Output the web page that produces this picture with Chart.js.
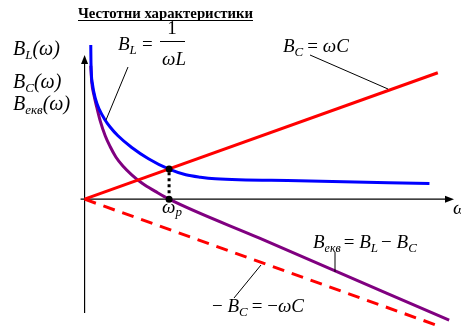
<!DOCTYPE html>
<html>
<head>
<meta charset="utf-8">
<script src="https://cdn.jsdelivr.net/npm/chart.js@4.4.1/dist/chart.umd.min.js"></script>
<style>
  html, body { margin: 0; padding: 0; background: #ffffff; }
  #wrap { width: 461px; height: 332px; }
</style>
</head>
<body>
<div id="wrap"><canvas id="c" width="461" height="332"></canvas></div>
<script>
// ---- Data (ω in units of ωp, susceptance in units of B at resonance) ----
const omegaBL   = [0.0733, 0.0756, 0.093, 0.128, 0.174, 0.233, 0.302, 0.395, 0.558, 0.756, 1.000, 1.198, 1.372, 1.547, 2.535, 4.081];
const valuesBL  = [5.097,  4.516,  3.806, 3.323, 2.968, 2.661, 2.387, 2.097, 1.710, 1.339, 0.990, 0.806, 0.726, 0.677, 0.613, 0.516];

const omegaBeq  = [0.0733, 0.0849, 0.110, 0.145, 0.186, 0.244, 0.302, 0.372, 0.453, 0.558, 0.686, 0.837, 1.000, 2.070, 4.314];
const valuesBeq = [4.410,  3.871,  3.452, 3.032, 2.581, 2.097, 1.742, 1.387, 1.097, 0.806, 0.516, 0.258, 0.000, -1.290, -4.000];

const omegaBC     = [0, 4.18];
const valuesBC    = [0, 4.18];
const omegaNegBC  = [0, 4.20];
const valuesNegBC = [0, -4.20];

const resonanceOmega = [1, 1];
const resonanceB     = [0, 1];

const titleText = 'Честотни характеристики';

// ---- helpers ----
const pts = (xs, ys) => xs.map((x, i) => ({ x: x, y: ys[i] }));
const SERIF = '"Liberation Serif", "DejaVu Serif", serif';
const MAIN = 'italic 19px ', SUB = 'italic 13px ', UP = '19px ';

function rich(ctx, x, y, runs) {
  let cx = x;
  runs.forEach(r => {
    ctx.font = (r.font || MAIN) + SERIF;
    ctx.fillText(r.t, cx, y + (r.dy || 0));
    cx += ctx.measureText(r.t).width + (r.kern || 0);
  });
  return cx;
}

function line(ctx, x1, y1, x2, y2, w) {
  ctx.beginPath();
  ctx.lineWidth = w || 1;
  ctx.moveTo(x1, y1);
  ctx.lineTo(x2, y2);
  ctx.stroke();
}

const decor = {
  id: 'decor',
  beforeDatasetsDraw(chart) {
    const ctx = chart.ctx;
    const xs = chart.scales.x, ys = chart.scales.y;
    const x0 = xs.getPixelForValue(0), y0 = ys.getPixelForValue(0);
    ctx.save();
    ctx.strokeStyle = '#000'; ctx.fillStyle = '#000';
    // x axis with arrow
    const xEnd = 454;
    line(ctx, x0 - 4, y0, xEnd - 6, y0, 1.2);
    ctx.beginPath();
    ctx.moveTo(xEnd, y0); ctx.lineTo(xEnd - 9, y0 - 3.5); ctx.lineTo(xEnd - 9, y0 + 3.5); ctx.closePath(); ctx.fill();
    // y axis with arrow
    const yTop = 55;
    line(ctx, x0, 313, x0, yTop + 6, 1.2);
    ctx.beginPath();
    ctx.moveTo(x0, yTop); ctx.lineTo(x0 - 3.5, yTop + 9); ctx.lineTo(x0 + 3.5, yTop + 9); ctx.closePath(); ctx.fill();
    ctx.restore();
  },
  afterDatasetsDraw(chart) {
    const ctx = chart.ctx;
    ctx.save();
    ctx.fillStyle = '#000'; ctx.strokeStyle = '#000';
    ctx.textBaseline = 'alphabetic';

    // title (bold, underlined)
    ctx.font = 'bold 14px ' + SERIF;
    const tw = ctx.measureText(titleText).width;
    const target = 175;
    ctx.save();
    ctx.translate(78, 18);
    ctx.scale(target / tw, 1);
    ctx.fillText(titleText, 0, 0);
    ctx.restore();
    line(ctx, 78, 20.5, 78 + target, 20.5, 1.2);

    // left axis labels
    const L = 'italic 20px ', LS = 'italic 13px ';
    rich(ctx, 13, 55, [{t:'B', font:L}, {t:'L', font:LS, dy:4}, {t:'(ω)', font:L}]);
    rich(ctx, 13, 88, [{t:'B', font:L}, {t:'C', font:LS, dy:4}, {t:'(ω)', font:L}]);
    rich(ctx, 13, 110, [{t:'B', font:L}, {t:'екв', font:LS, dy:4}, {t:'(ω)', font:L}]);

    // B_L = 1/(ωL)
    rich(ctx, 118, 50, [{t:'B'}, {t:'L', font:SUB, dy:4, kern:4}]);
    ctx.font = UP + SERIF;
    ctx.fillText('=', 142, 50);
    line(ctx, 160, 41.5, 185, 41.5, 1);
    ctx.textAlign = 'center';
    ctx.fillText('1', 172, 34);
    ctx.font = MAIN + SERIF;
    ctx.fillText('ωL', 174, 65);
    ctx.textAlign = 'left';
    line(ctx, 128, 67, 106, 120, 1);

    // B_C = ωC
    rich(ctx, 283, 52, [{t:'B'}, {t:'C', font:SUB, dy:4, kern:4}, {t:'= ', font:UP}, {t:'ωC'}]);
    line(ctx, 310, 55, 388, 89, 1);

    // B_екв = B_L − B_C
    rich(ctx, 313, 248, [{t:'B'}, {t:'екв', font:'italic 12px ', dy:4, kern:3}, {t:'= ', font:UP}, {t:'B'}, {t:'L', font:SUB, dy:4, kern:3}, {t:'− ', font:UP}, {t:'B'}, {t:'C', font:SUB, dy:4}]);
    line(ctx, 335, 252, 335, 272, 1);

    // −B_C = −ωC
    rich(ctx, 212, 312, [{t:'− ', font:UP}, {t:'B'}, {t:'C', font:SUB, dy:4, kern:4}, {t:'= −', font:UP}, {t:'ωC'}]);
    line(ctx, 261, 265, 234, 298, 1);

    // ω_p
    rich(ctx, 162, 213, [{t:'ω'}, {t:'p', font:SUB, dy:3}]);

    // ω at axis end
    rich(ctx, 453, 214, [{t:'ω'}]);
    ctx.restore();
  }
};

new Chart(document.getElementById('c'), {
  type: 'scatter',
  data: {
    datasets: [
      {
        label: 'resonance', data: pts(resonanceOmega, resonanceB), showLine: true,
        borderColor: '#000', borderWidth: 3, borderDash: [3, 3],
        pointRadius: 3.5, pointBackgroundColor: '#000', pointBorderWidth: 0, order: 0
      },
      {
        label: 'B_C', data: pts(omegaBC, valuesBC), showLine: true,
        borderColor: '#ff0000', borderWidth: 3, pointRadius: 0, order: 1
      },
      {
        label: 'B_L', data: pts(omegaBL, valuesBL), showLine: true,
        borderColor: '#0000ff', borderWidth: 3, pointRadius: 0,
        cubicInterpolationMode: 'monotone', order: 2
      },
      {
        label: 'B_ekv', data: pts(omegaBeq, valuesBeq), showLine: true,
        borderColor: '#800080', borderWidth: 3, pointRadius: 0,
        cubicInterpolationMode: 'monotone', order: 3
      },
      {
        label: '-B_C', data: pts(omegaNegBC, valuesNegBC), showLine: true,
        borderColor: '#ff0000', borderWidth: 3, borderDash: [12, 8], pointRadius: 0, order: 4
      }
    ]
  },
  options: {
    responsive: false,
    animation: false,
    layout: { padding: 0 },
    plugins: { legend: { display: false }, tooltip: { enabled: false }, title: { display: false } },
    scales: {
      x: { type: 'linear', display: false, min: -82 / 86, max: (461 - 82) / 86 },
      y: { type: 'linear', display: false, min: -132 / 31, max: 200 / 31 }
    }
  },
  plugins: [decor]
});
</script>
</body>
</html>
